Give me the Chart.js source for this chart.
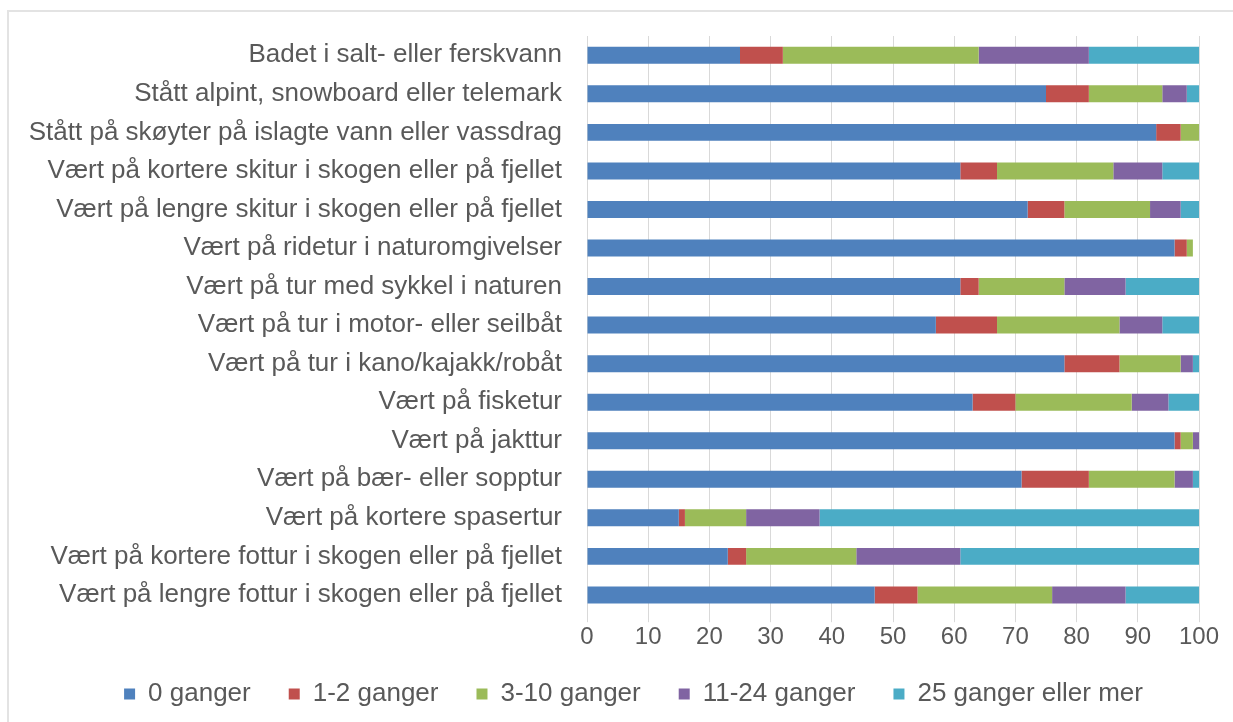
<!DOCTYPE html>
<html>
<head>
<meta charset="utf-8">
<script src="https://cdn.jsdelivr.net/npm/chart.js@4/dist/chart.umd.min.js"></script>
<style>
  html, body { margin: 0; padding: 0; background: #fff; }
  #wrap { position: relative; width: 1233px; height: 722px; }
  #frame {
    position: absolute; left: 7px; top: 10px; right: 0; bottom: 0;
    border-left: 2px solid #e3e3e3; border-top: 2px solid #e3e3e3;
    pointer-events: none;
  }
</style>
</head>
<body>
<div id="wrap">
  <canvas id="myBars" width="1233" height="722"></canvas>
  <div id="frame"></div>
</div>
<script>
// categories, top to bottom
const activities = [
  'Badet i salt- eller ferskvann',
  'Stått alpint, snowboard eller telemark',
  'Stått på skøyter på islagte vann eller vassdrag',
  'Vært på kortere skitur i skogen eller på fjellet',
  'Vært på lengre skitur i skogen eller på fjellet',
  'Vært på ridetur i naturomgivelser',
  'Vært på tur med sykkel i naturen',
  'Vært på tur i motor- eller seilbåt',
  'Vært på tur i kano/kajakk/robåt',
  'Vært på fisketur',
  'Vært på jakttur',
  'Vært på bær- eller sopptur',
  'Vært på kortere spasertur',
  'Vært på kortere fottur i skogen eller på fjellet',
  'Vært på lengre fottur i skogen eller på fjellet'
];

const seriesNames = ['0 ganger', '1-2 ganger', '3-10 ganger', '11-24 ganger', '25 ganger eller mer'];

// percent per activity
const ganger0 = [25, 75, 93, 61, 72, 96, 61, 57, 78, 63, 96, 71, 15, 23, 47];
const ganger1to2 = [7, 7, 4, 6, 6, 2, 3, 10, 9, 7, 1, 11, 1, 3, 7];
const ganger3to10 = [32, 12, 3, 19, 14, 1, 14, 20, 10, 19, 2, 14, 10, 18, 22];
const ganger11to24 = [18, 4, 0, 8, 5, 0, 10, 7, 2, 6, 1, 3, 12, 17, 12];
const ganger25plus = [18, 2, 0, 6, 3, 0, 12, 6, 1, 5, 0, 1, 62, 39, 12];

const xTicks = [0, 10, 20, 30, 40, 50, 60, 70, 80, 90, 100];

const colors = ['#4f81bd', '#c0504d', '#9bbb59', '#8064a2', '#4bacc6'];
const allValues = [ganger0, ganger1to2, ganger3to10, ganger11to24, ganger25plus];

const textColor = '#595959';
const fontFamily = '"Liberation Sans", Arial, sans-serif';

let datasets = [];
for (let i = 0; i < seriesNames.length; i++) {
  datasets.push({
    label: seriesNames[i],
    data: allValues[i],
    backgroundColor: colors[i],
    borderWidth: 0,
    barPercentage: 0.44,
    categoryPercentage: 1.0
  });
}

// the legend uses its label padding both between items and above them,
// so move it up a bit (and right) after the layout is done
const legendShift = {
  id: 'legendShift',
  afterLayout: function (chart) {
    const lg = chart.legend;
    lg.top = 643;
    lg.bottom = lg.top + lg.height;
    lg.left += 34;
    lg.right += 34;
  }
};

const ctx = document.getElementById('myBars');
const myChart = new Chart(ctx, {
  type: 'bar',
  data: {
    labels: activities,
    datasets: datasets
  },
  plugins: [legendShift],
  options: {
    indexAxis: 'y',
    responsive: false,
    animation: false,
    layout: {
      padding: { top: 36, right: 34, left: 0, bottom: 0 }
    },
    scales: {
      x: {
        stacked: true,
        min: 0,
        max: 100,
        afterBuildTicks: function (scale) {
          scale.ticks = xTicks.map(function (v) { return { value: v }; });
        },
        grid: {
          color: '#d9d9d9',
          lineWidth: 1,
          drawTicks: true,
          tickLength: 8,
          tickColor: '#d9d9d9'
        },
        border: { display: false },
        ticks: {
          color: textColor,
          padding: 1,
          font: { family: fontFamily, size: 24 }
        }
      },
      y: {
        stacked: true,
        // hidden tick marks only used as the gap between labels and bars
        grid: { display: false, drawTicks: true, tickLength: 25 },
        border: { display: false },
        afterFit: function (scale) {
          scale.width = 587;
        },
        ticks: {
          color: textColor,
          padding: 0,
          autoSkip: false,
          font: { family: fontFamily, size: 26 }
        }
      }
    },
    plugins: {
      tooltip: { enabled: false },
      legend: {
        position: 'bottom',
        maxHeight: 69,
        labels: {
          color: textColor,
          boxWidth: 11,
          boxHeight: 11,
          padding: 38,
          font: { family: fontFamily, size: 26 }
        }
      }
    }
  }
});
</script>
</body>
</html>
